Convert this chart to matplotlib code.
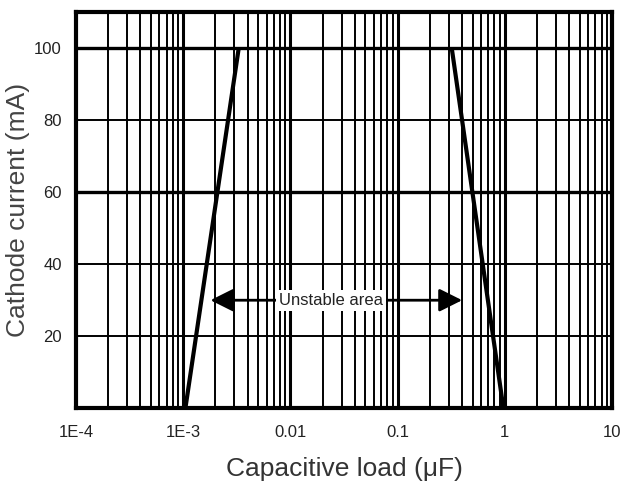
import numpy as np
import matplotlib.pyplot as plt
from matplotlib.ticker import FixedLocator, NullFormatter

# stability boundary lines (capacitive load in uF, cathode current in mA)
left_load = [1.05e-3, 3.3e-3]
left_current = [0, 100]
right_load = [0.32, 0.97]
right_current = [100, 0]

xtick_vals = [1e-4, 1e-3, 0.01, 0.1, 1, 10]
xtick_labels = ['1E-4', '1E-3', '0.01', '0.1', '1', '10']
ytick_vals = [20, 40, 60, 80, 100]

arrow_left = 1.8e-3
arrow_right = 0.40
arrow_y = 30
label_x = 0.024

plt.rcParams['font.family'] = ['Liberation Sans', 'DejaVu Sans']

fig = plt.figure(figsize=(6.22, 4.86), dpi=100)
ax = fig.add_axes([0.122, 0.16, 0.862, 0.815])

ax.set_xscale('log')
ax.set_xlim(1e-4, 10)
ax.set_ylim(0, 110)

# grid: every minor log tick as a vertical line
minors = []
for dec in [1e-4, 1e-3, 1e-2, 1e-1, 1]:
    for m in range(2, 10):
        minors.append(dec * m)
for v in minors:
    ax.axvline(v, color='black', lw=1.4, zorder=1)
for v in xtick_vals[1:-1]:
    ax.axvline(v, color='black', lw=2.2, zorder=1)
for v in ytick_vals:
    ax.axhline(v, color='black', lw=2.4 if v in (60, 100) else 1.4, zorder=1)

ax.plot(left_load, left_current, color='black', lw=3, zorder=3, solid_capstyle='butt')
ax.plot(right_load, right_current, color='black', lw=3, zorder=3, solid_capstyle='butt')

ax.annotate('', xy=(arrow_left, arrow_y), xytext=(arrow_right, arrow_y),
            arrowprops=dict(arrowstyle='<|-|>,head_length=0.7,head_width=0.35',
                            mutation_scale=20, color='black', lw=2, shrinkA=0, shrinkB=0),
            zorder=4)
ax.text(label_x, arrow_y, 'Unstable area', ha='center', va='center', fontsize=12,
        color='#222222', zorder=5,
        bbox=dict(facecolor='white', edgecolor='none', pad=2))

ax.xaxis.set_major_locator(FixedLocator(xtick_vals))
ax.set_xticklabels(xtick_labels)
ax.xaxis.set_minor_formatter(NullFormatter())
ax.set_yticks(ytick_vals)
ax.tick_params(which='both', length=0, labelsize=12, colors='#222222', pad=12)
ax.tick_params(axis='y', pad=10)

for s in ax.spines.values():
    s.set_linewidth(3)

ax.set_xlabel('Capacitive load (\u03bcF)', fontsize=19, color='#333333', labelpad=12)
ax.set_ylabel('Cathode current (mA)', fontsize=19, color='#444444', labelpad=3)

fig.savefig('out.png', dpi=100)
